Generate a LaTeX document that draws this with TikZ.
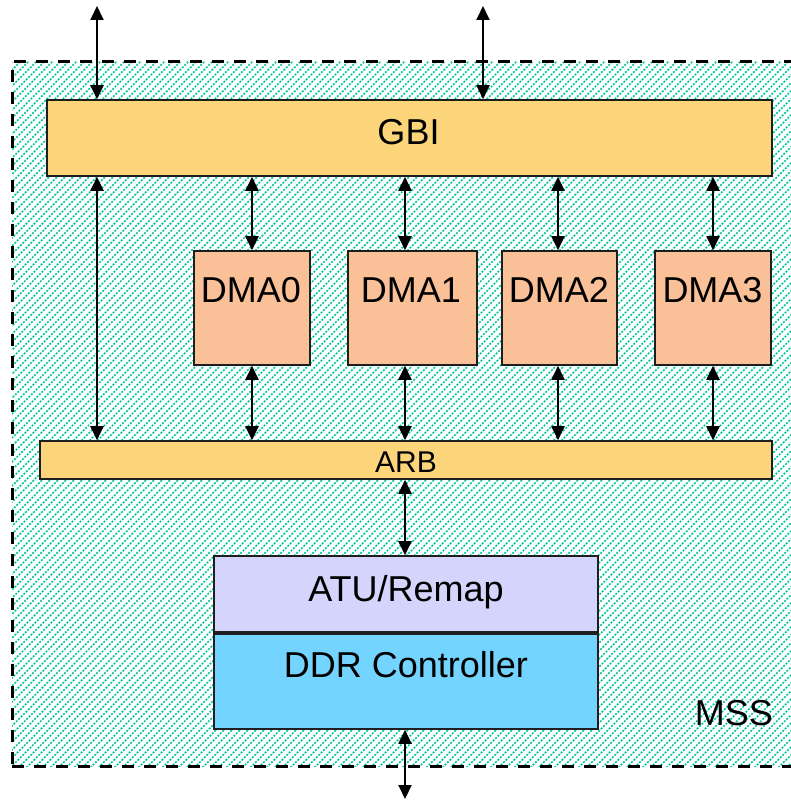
\documentclass[tikz,border=0pt]{standalone}
\usepackage{fontspec}
\setmainfont{Liberation Sans}
\usetikzlibrary{arrows.meta}
\definecolor{busfill}{RGB}{252,212,122}
\definecolor{dmafill}{RGB}{250,192,152}
\definecolor{atufill}{RGB}{212,212,252}
\definecolor{ddrfill}{RGB}{115,212,255}
\definecolor{hatchcol}{RGB}{0,200,155}
\definecolor{edge}{RGB}{30,30,30}
\begin{document}
\begin{tikzpicture}[x=1pt,y=-1pt,
  block/.style={draw=edge, line width=1.6pt, rectangle, inner sep=0pt},
  bus/.style={block, fill=busfill},
  dmabox/.style={block, fill=dmafill, minimum height=114pt},
  lbl/.style={font=\fontsize{36}{40}\selectfont, inner sep=0pt, anchor=base},
  smalllbl/.style={font=\fontsize{30}{34}\selectfont, inner sep=0pt, anchor=base},
  region/.style={draw=black, line width=3pt, dash pattern=on 12pt off 10pt, inner sep=0pt},
  biarrow/.style={line width=2pt, {Triangle[length=14pt,width=13pt]}-{Triangle[length=14pt,width=13pt]}}]
\useasboundingbox (0,0) rectangle (791,802);
\clip (0,0) rectangle (791,802);

% hatched MSS subsystem area
\begin{scope}
  \clip (12,62) rectangle (800,766);
  \foreach \a in {-720,-712,...,800}
    \draw[hatchcol, line width=1.5pt, dash pattern=on 2pt off 1.4pt] (\a,770) -- (\a+712,58);
\end{scope}
\node[region, minimum width=788pt, minimum height=704pt] (mss) at (406,414) {};
\node[lbl, anchor=base east] (msslbl) at (773,725) {MSS};

% buses
\node[bus, minimum width=725pt, minimum height=76pt] (gbi) at (409.5,138) {};
\node[lbl] (gbilbl) at (408.5,145) {GBI};
\node[bus, minimum width=732pt, minimum height=38pt] (arb) at (406,460) {};
\node[smalllbl] (arblbl) at (406,472) {ARB};

% DMA engines
\node[dmabox, minimum width=116pt] (dma0) at (252,308) {};
\node[dmabox, minimum width=129pt] (dma1) at (412.5,308) {};
\node[dmabox, minimum width=115pt] (dma2) at (559.5,308) {};
\node[dmabox, minimum width=116pt] (dma3) at (713,308) {};
\node[lbl] (dma0lbl) at (251,302) {DMA0};
\node[lbl] (dma1lbl) at (411,302) {DMA1};
\node[lbl] (dma2lbl) at (559,302) {DMA2};
\node[lbl] (dma3lbl) at (712.5,302) {DMA3};

% memory path
\node[block, fill=atufill, minimum width=384pt, minimum height=76pt] (atu) at (406,594) {};
\node[lbl] (atulbl) at (406,601) {ATU/Remap};
\node[block, fill=ddrfill, minimum width=384pt, minimum height=95pt] (ddr) at (406,681.5) {};
\node[lbl] (ddrlbl) at (406,677) {DDR Controller};

% connector columns and free ends
\coordinate (colL) at (97,0);
\coordinate (colR) at (483,0);
\coordinate (col0) at (252,0);
\coordinate (col1) at (405,0);
\coordinate (col2) at (558,0);
\coordinate (col3) at (713,0);
\coordinate (extL) at (97,6);
\coordinate (extR) at (483,6);
\coordinate (extB) at (405,799);

% external ports
\draw[biarrow] (extL) -- (extL |- gbi.north);
\draw[biarrow] (extR) -- (extR |- gbi.north);
\draw[biarrow] (col1 |- ddr.south) -- (extB);

% GBI to ARB direct path
\draw[biarrow] (colL |- gbi.south) -- (colL |- arb.north);

% DMA connections
\draw[biarrow] (col0 |- gbi.south) -- (col0 |- dma0.north);
\draw[biarrow] (col1 |- gbi.south) -- (col1 |- dma1.north);
\draw[biarrow] (col2 |- gbi.south) -- (col2 |- dma2.north);
\draw[biarrow] (col3 |- gbi.south) -- (col3 |- dma3.north);
\draw[biarrow] (col0 |- dma0.south) -- (col0 |- arb.north);
\draw[biarrow] (col1 |- dma1.south) -- (col1 |- arb.north);
\draw[biarrow] (col2 |- dma2.south) -- (col2 |- arb.north);
\draw[biarrow] (col3 |- dma3.south) -- (col3 |- arb.north);

% ARB to ATU
\draw[biarrow] (col1 |- arb.south) -- (col1 |- atu.north);
\end{tikzpicture}
\end{document}
